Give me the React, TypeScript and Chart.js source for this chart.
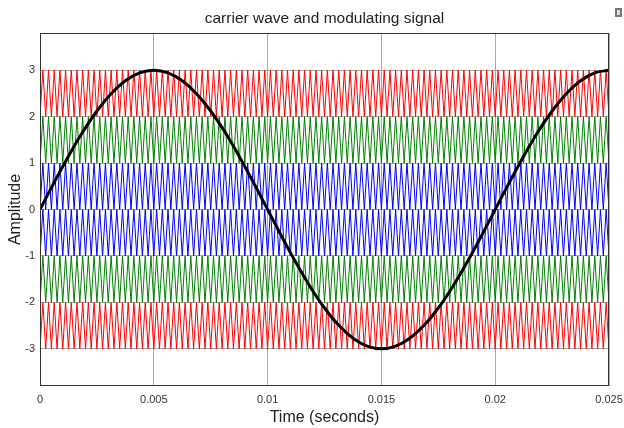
import React, { useEffect, useRef } from "react";
import { Chart, registerables } from "chart.js";

Chart.register(...registerables);

// ---- data ----
const xTickValues = [0, 0.005, 0.01, 0.015, 0.02, 0.025];
const xTickLabels = ["0", "0.005", "0.01", "0.015", "0.02", "0.025"];
const yTickValues = [-3, -2, -1, 0, 1, 2, 3];

// modulating signal samples, every 0.000625 s
const sineStep = 0.000625;
const sineValues = [
  0, 0.585, 1.148, 1.667, 2.121, 2.494, 2.772, 2.942, 3,
  2.942, 2.772, 2.494, 2.121, 1.667, 1.148, 0.585, 0,
  -0.585, -1.148, -1.667, -2.121, -2.494, -2.772, -2.942, -3,
  -2.942, -2.772, -2.494, -2.121, -1.667, -1.148, -0.585, 0,
  0.585, 1.148, 1.667, 2.121, 2.494, 2.772, 2.942, 3,
];

// carrier bands (triangle waves between low and high)
const carrierLows = [2, 1, 0, -1, -2, -3];
const carrierHighs = [3, 2, 1, 0, -1, -2];
const carrierColors = ["#ff0000", "#008000", "#0000ff", "#0000ff", "#008000", "#ff0000"];
const carrierCycles = 100;
const timeEnd = 0.025;

const titleText = "carrier wave and modulating signal";
const xTitle = "Time (seconds)";
const yTitle = "Amplitude";

const FONT = "'Liberation Sans', Arial, sans-serif";

export default function App() {
  const ref = useRef<HTMLCanvasElement | null>(null);

  useEffect(() => {
    if (!ref.current) return;

    const carrierSets = carrierLows.map((low, b) => {
      const pts: { x: number; y: number }[] = [];
      const n = carrierCycles * 2;
      for (let k = 0; k <= n; k++) {
        pts.push({ x: (k * timeEnd) / n, y: k % 2 === 0 ? low : carrierHighs[b] });
      }
      return {
        data: pts,
        borderColor: carrierColors[b],
        borderWidth: 1,
        pointRadius: 0,
        tension: 0,
      };
    });

    const sineSet = {
      data: sineValues.map((v, i) => ({ x: i * sineStep, y: v })),
      borderColor: "#000000",
      borderWidth: 3,
      pointRadius: 0,
      cubicInterpolationMode: "monotone" as const,
    };

    const boxPlugin = {
      id: "boxPlugin",
      afterDatasetsDraw(chart: any) {
        const { ctx, chartArea } = chart;
        ctx.save();
        ctx.strokeStyle = "#333333";
        ctx.lineWidth = 1;
        const l = Math.round(chartArea.left) + 0.5;
        const t = Math.round(chartArea.top) + 0.5;
        const r = Math.round(chartArea.right) - 0.5;
        const b = Math.round(chartArea.bottom) - 0.5;
        ctx.strokeRect(l, t, r - l, b - t);
        // title centred over the plot area
        ctx.fillStyle = "#222222";
        ctx.font = `15.5px ${FONT}`;
        ctx.textAlign = "center";
        ctx.textBaseline = "middle";
        ctx.fillText(titleText, (chartArea.left + chartArea.right) / 2, 18.5);
        // small window icon at the top right corner
        ctx.fillStyle = "#777777";
        ctx.fillRect(615, 8, 7, 9);
        ctx.fillStyle = "#dddddd";
        ctx.fillRect(617, 10, 3, 5);
        ctx.restore();
      },
    };

    const chart = new Chart(ref.current, {
      type: "line",
      data: { datasets: [sineSet as any, ...(carrierSets as any)] },
      options: {
        animation: false,
        responsive: false,
        events: [],
        layout: { padding: { left: 0, right: 15, top: 33, bottom: 0 } },
        plugins: {
          legend: { display: false },
          tooltip: { enabled: false },
          title: { display: false },
        },
        scales: {
          x: {
            type: "linear",
            min: 0,
            max: 0.025,
            afterBuildTicks: (s: any) => {
              s.ticks = xTickValues.map((v) => ({ value: v }));
            },
            afterFit: (s: any) => {
              s.height = 42;
              s.paddingRight = 0;
              s.paddingLeft = 0;
            },
            ticks: {
              callback: (_v: any, i: number) => xTickLabels[i],
              color: "#333333",
              font: { family: FONT, size: 11 },
              padding: 7,
              maxRotation: 0,
              autoSkip: false,
            },
            grid: { color: "#a8a8a8", drawTicks: false, lineWidth: 1 },
            border: { display: false },
            title: {
              display: true,
              text: xTitle,
              color: "#222222",
              font: { family: FONT, size: 16 },
              padding: { top: 0, bottom: 1 },
            },
          },
          y: {
            type: "linear",
            min: -3.8,
            max: 3.8,
            afterBuildTicks: (s: any) => {
              s.ticks = yTickValues.map((v) => ({ value: v }));
            },
            afterFit: (s: any) => {
              s.width = 40;
              s.paddingTop = 0;
              s.paddingBottom = 0;
            },
            ticks: {
              callback: (v: any) => String(v),
              color: "#333333",
              font: { family: FONT, size: 11 },
              padding: 5,
              autoSkip: false,
            },
            grid: { color: "#a8a8a8", drawTicks: false, lineWidth: 1 },
            border: { display: false },
            title: {
              display: true,
              text: yTitle,
              color: "#222222",
              font: { family: FONT, size: 16 },
              padding: { top: 6, bottom: 0 },
            },
          },
        },
      },
      plugins: [boxPlugin],
    });

    return () => chart.destroy();
  }, []);

  return (
    <div style={{ position: "absolute", left: 0, top: 0, width: 624, height: 428, background: "#ffffff" }}>
      <canvas ref={ref} width={624} height={428} style={{ display: "block" }} />
    </div>
  );
}
